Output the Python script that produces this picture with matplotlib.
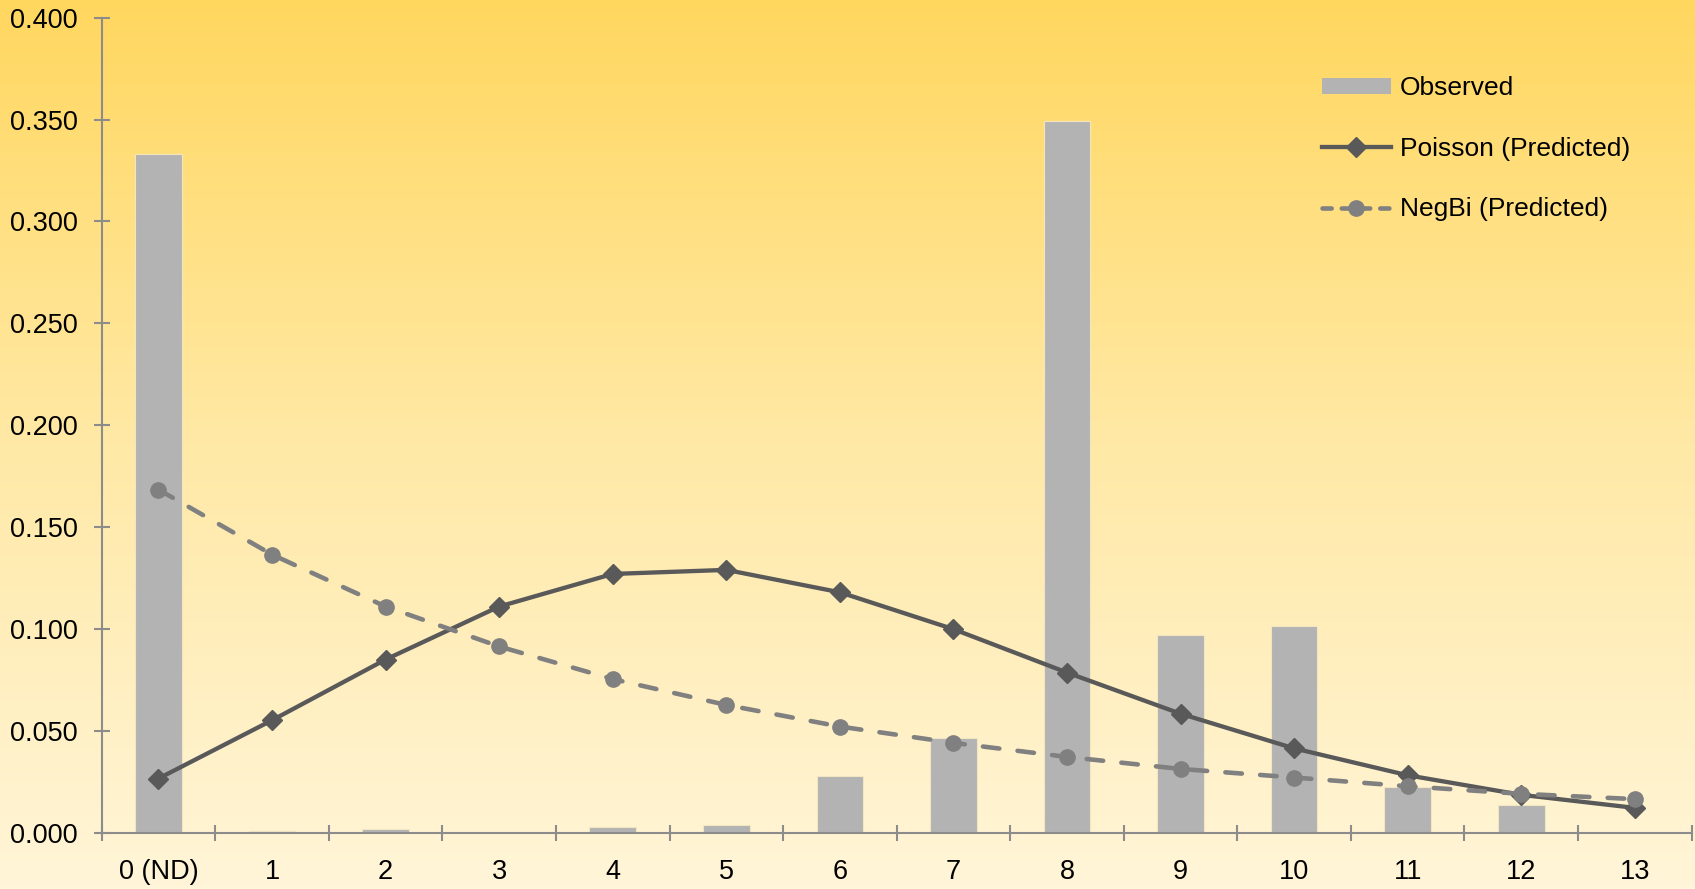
import numpy as np
import matplotlib
matplotlib.use("Agg")
import matplotlib.pyplot as plt
from matplotlib.patches import Patch
from matplotlib.lines import Line2D
from matplotlib.colors import LinearSegmentedColormap

categories = ["0 (ND)", "1", "2", "3", "4", "5", "6", "7", "8", "9", "10", "11", "12", "13"]
observed = [0.333, 0.0008, 0.0016, 0.0, 0.003, 0.004, 0.0276, 0.0467, 0.3495, 0.0972, 0.1015, 0.0223, 0.0138, 0.0]
poisson = [0.0266, 0.0552, 0.085, 0.111, 0.127, 0.129, 0.118, 0.0999, 0.0786, 0.0584, 0.0414, 0.0282, 0.0186, 0.0122]
negbi = [0.1684, 0.1365, 0.111, 0.0914, 0.0754, 0.0627, 0.0521, 0.0441, 0.0372, 0.0313, 0.0271, 0.0228, 0.0191, 0.0165]
ytick_vals = [0.0, 0.05, 0.1, 0.15, 0.2, 0.25, 0.3, 0.35, 0.4]

plt.rcParams['font.family'] = ['Liberation Sans', 'DejaVu Sans']

fig = plt.figure(figsize=(16.95, 8.89), dpi=100)

# background gradient
bg = fig.add_axes([0, 0, 1, 1], zorder=-10)
cmap = LinearSegmentedColormap.from_list("bg", ["#FFD75F", "#FFE9A6", "#FFF5D8"])
grad = np.linspace(0, 1, 256).reshape(-1, 1)
bg.imshow(grad, aspect='auto', cmap=cmap, extent=[0, 1, 0, 1], origin='upper')
bg.axis('off')

ax = fig.add_axes([0.060, 0.0633, 0.938, 0.9168])
ax.patch.set_alpha(0)

x = np.arange(len(categories))
axis_col = "#8C8C8C"
dash = (0, (3.6, 4.0))

ax.bar(x, observed, width=0.41, color="#B3B3B3", edgecolor="#F2E6C0", linewidth=0.8, zorder=2)
ax.plot(x, poisson, color="#595959", lw=3.1, marker='D', markersize=10, zorder=3)
ax.plot(x, negbi, color="#808080", lw=3.3, marker='o', markersize=11,
        linestyle=dash, dash_capstyle='round', zorder=4)

ax.set_xlim(-0.5, len(categories) - 0.5)
ax.set_ylim(0, 0.4)

for s in ['top', 'right']:
    ax.spines[s].set_visible(False)
for s in ['left', 'bottom']:
    ax.spines[s].set_color(axis_col)
    ax.spines[s].set_linewidth(1.5)

ax.set_yticks(ytick_vals)
ax.set_yticklabels([f"{v:.3f}" for v in ytick_vals])
ax.tick_params(axis='y', direction='inout', length=11, width=1.5, color=axis_col,
               labelsize=19.5, pad=12)

ax.set_xticks(x)
ax.set_xticklabels(categories)
ax.set_xticks(np.arange(-0.5, len(categories)), minor=True)
ax.tick_params(axis='x', which='major', length=0, labelsize=19.5, pad=19)
ax.tick_params(axis='x', which='minor', direction='inout', length=11, width=1.5, color=axis_col)

handles = [
    Patch(facecolor="#B3B3B3", edgecolor='none'),
    Line2D([0], [0], color="#595959", lw=3.1, marker='D', markersize=10),
    Line2D([0], [0], color="#808080", lw=3.3, marker='o', markersize=11,
           linestyle=(0, (2.0, 2.2)), dash_capstyle='round'),
]
fig.legend(handles, ["Observed", "Poisson (Predicted)", "NegBi (Predicted)"],
           loc='upper left', bbox_to_anchor=(1322 / 1695, 1 - 76 / 889),
           frameon=False, fontsize=19, handlelength=2.6, handleheight=0.55,
           handletextpad=0.35, labelspacing=1.39, borderpad=0, borderaxespad=0)

fig.savefig("out.png", dpi=100)
